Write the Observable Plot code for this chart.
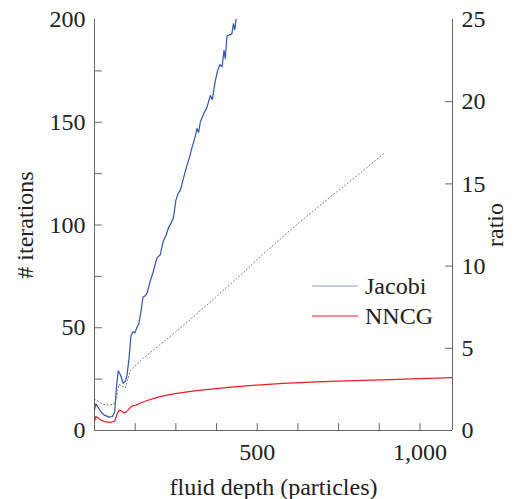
<!DOCTYPE html>
<html>
<head>
<meta charset="utf-8">
<script src="https://cdn.jsdelivr.net/npm/d3@7"></script>
<script src="https://cdn.jsdelivr.net/npm/@observablehq/plot@0.6"></script>
<style>
  html, body { margin: 0; padding: 0; background: #fff; }
  #wrap { position: relative; width: 527px; height: 499px; font-family: "Liberation Serif", "Times New Roman", serif; }
  #legend { position: absolute; left: 312px; top: 271px; font-size: 24px; color: #222; }
  #legend .row { display: flex; align-items: center; height: 30px; }
  #legend svg { margin-right: 7px; }
</style>
</head>
<body>
<div id="wrap"><div id="legend"></div></div>
<script>
// Jacobi iterations (left axis)
const jacobiX = [0, 4, 10, 20, 30, 45, 55, 62, 68, 73, 80, 88, 95, 100, 106, 112, 118, 124, 130, 136, 142, 149, 156, 162, 170, 180, 192, 202, 211, 220, 228, 236, 243, 250, 256, 264, 272, 284, 292, 300, 308, 315, 320, 325, 335, 345, 356, 362, 371, 378, 385, 392, 398, 402, 407, 415, 422, 427, 431, 435, 440];
const jacobiY = [10, 13, 11.5, 9, 7.5, 6.5, 6.8, 9, 22, 29, 27, 23, 24, 27, 35, 46, 48, 47.5, 50, 52, 57, 65, 65.5, 67, 72, 77, 84, 85.5, 92, 95, 99, 101, 104, 112, 115, 117, 122, 129, 133, 138, 142, 147, 145, 150, 154, 157, 163, 161, 170, 175, 178, 177, 185, 181, 192, 192.5, 193, 198, 195, 200, 203];

// NNCG iterations (left axis)
const nncgX = [0, 4, 10, 20, 35, 50, 62, 68, 75, 82, 90, 96, 102, 110, 116, 125, 131, 145, 162, 190, 215, 243, 280, 320, 366, 420, 499, 580, 650, 703, 800, 908, 1000, 1100];
const nncgY = [4.5, 6.8, 6.2, 5, 4.2, 4.0, 4.5, 7.5, 9.8, 9.6, 8.6, 8.8, 9.8, 11.2, 12, 12.3, 12.6, 13.6, 14.6, 16, 17, 17.8, 18.7, 19.5, 20.3, 21.1, 22.1, 22.9, 23.4, 23.8, 24.3, 24.8, 25.2, 25.7];

// ratio Jacobi / NNCG (right axis)
const ratioX = [0, 10, 25, 45, 60, 68, 75, 85, 95, 110, 150, 200, 250, 315, 400, 460, 519, 620, 724, 810, 888];
const ratioY = [1.9, 1.8, 1.6, 1.55, 1.6, 2.0, 2.8, 2.7, 2.6, 3.65, 4.4, 5.2, 6.0, 7.1, 8.6, 9.65, 10.75, 12.5, 14.19, 15.55, 16.83];

const xTicks = [500, 1000];
const xMinorTicks = [125, 250, 375, 500, 625, 750, 875, 1000];
const yTicks = [0, 50, 100, 150, 200];
const yMinorTicks = [25, 50, 75, 100, 125, 150, 175];
const ratioTicks = [0, 5, 10, 15, 20, 25];
const ratioMax = 25, iterMax = 200;
const k = iterMax / ratioMax;

const jacobi = jacobiX.map((x, i) => ({x, y: jacobiY[i]}));
const nncg = nncgX.map((x, i) => ({x, y: nncgY[i]}));
const ratio = ratioX.map((x, i) => ({x, y: ratioY[i] * k}));

const axisColor = "#666";
const blue = "#3553a8";
const red = "#ee1c25";
const font = "'Liberation Serif', 'Times New Roman', serif";

const tickShape = {draw(ctx, l) { ctx.moveTo(0, 0); ctx.lineTo(0, -l); }};
const tick = (data, opts) => Plot.vector(data, {length: 7, anchor: "start", shape: tickShape, stroke: axisColor, strokeWidth: 1, ...opts});

const chart = Plot.plot({
  width: 527,
  height: 499,
  marginLeft: 94,
  marginRight: 75,
  marginTop: 19,
  marginBottom: 69,
  style: {fontFamily: font, fontSize: "24px", color: "#222", background: "transparent"},
  x: {domain: [0, 1100]},
  y: {domain: [0, iterMax]},
  marks: [
    // axis lines
    Plot.ruleX([0], {stroke: axisColor}),
    Plot.ruleX([1100], {stroke: axisColor}),
    Plot.ruleY([0], {stroke: axisColor}),
    // ticks (inward)
    tick(xMinorTicks, {x: d => d, y: 0, rotate: 0}),
    tick(yMinorTicks, {x: 0, y: d => d, rotate: 90}),
    tick(ratioTicks.slice(1, -1), {x: 1100, y: d => d * k, rotate: -90}),
    // labels
    Plot.axisX(xTicks, {tickSize: 0, tickPadding: 12, tickFormat: d => d3.format(",")(d), fontSize: 24, label: null}),
    Plot.axisY(yTicks, {anchor: "left", tickSize: 0, tickPadding: 9, fontSize: 24, label: null}),
    Plot.axisY(ratioTicks.map(d => d * k), {anchor: "right", tickSize: 0, tickPadding: 9, tickFormat: d => d / k, fontSize: 24, label: null}),
    Plot.text(["fluid depth (particles)"], {x: 550, frameAnchor: "bottom", lineAnchor: "middle", dy: 57, fontSize: 24, text: d => d}),
    Plot.text(["# iterations"], {y: 100, frameAnchor: "left", textAnchor: "middle", lineAnchor: "middle", dx: -69, rotate: -90, fontSize: 24, text: d => d}),
    Plot.text(["ratio"], {y: 100, frameAnchor: "right", textAnchor: "middle", lineAnchor: "middle", dx: 43, rotate: -90, fontSize: 24, text: d => d}),
    // data
    Plot.line(ratio, {x: "x", y: "y", stroke: "#777", strokeWidth: 1, strokeDasharray: "1,2.5", clip: true}),
    Plot.line(nncg, {x: "x", y: "y", stroke: red, strokeWidth: 1.2, clip: true}),
    Plot.line(jacobi, {x: "x", y: "y", stroke: blue, strokeWidth: 1.2, clip: true})
  ]
});
document.getElementById("wrap").prepend(chart);

// legend
const legendItems = [["Jacobi", "#8797cc"], ["NNCG", red]];
const legend = document.getElementById("legend");
for (const [name, color] of legendItems) {
  const row = document.createElement("div");
  row.className = "row";
  row.innerHTML = `<svg width="46" height="4"><line x1="0" x2="46" y1="2" y2="2" stroke="${color}" stroke-width="1.2"/></svg><span>${name}</span>`;
  legend.appendChild(row);
}
</script>
</body>
</html>
